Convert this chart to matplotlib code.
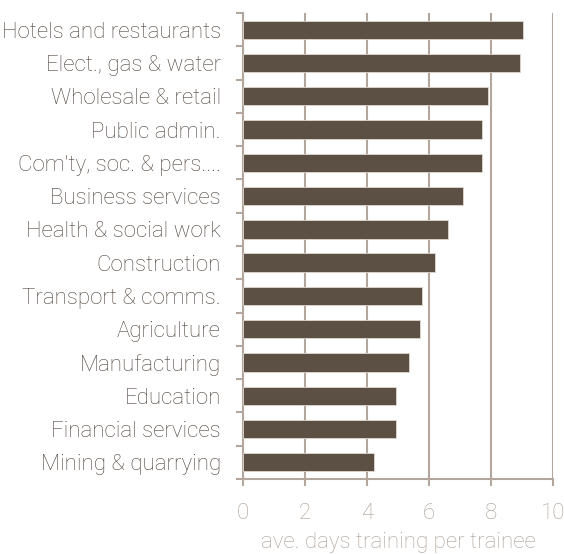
import matplotlib.pyplot as plt

sectors = ['Hotels and restaurants', 'Elect., gas & water', 'Wholesale & retail',
           'Public admin.', "Com'ty, soc. & pers....", 'Business services',
           'Health & social work', 'Construction', 'Transport & comms.',
           'Agriculture', 'Manufacturing', 'Education', 'Financial services',
           'Mining & quarrying']
days = [9.05, 8.95, 7.91, 7.72, 7.70, 7.09, 6.62, 6.20, 5.77, 5.71, 5.36, 4.93, 4.93, 4.22]

bar_col = '#5c4f44'
grid_col = '#b3a79d'
label_col = '#4f443c'
tick_col = '#aa9e94'

plt.rcParams['font.family'] = ['Roboto', 'DejaVu Sans']

fig = plt.figure(figsize=(5.64, 5.54), dpi=100)
ax = fig.add_axes([0.431, 0.1354, 0.549, 0.8411])

pos = list(range(len(sectors)))
ax.barh(pos, days, height=0.55, color=bar_col, edgecolor='#e0d8d0', linewidth=0.6, zorder=3)

ax.set_xlim(0, 10)
ax.set_ylim(len(sectors) - 0.5, -0.5)
ax.set_xticks([0, 2, 4, 6, 8, 10])
ax.set_yticks([p - 0.5 for p in pos] + [len(sectors) - 0.5])
ax.set_yticklabels([])
ax.set_yticks(pos, minor=True)
ax.set_yticklabels(sectors, minor=True, fontsize=16, color=label_col, fontweight='light')
ax.tick_params(axis='y', which='minor', length=0, pad=16)
ax.tick_params(axis='y', which='major', length=5, width=1.5, color=grid_col)
ax.tick_params(axis='x', length=5, width=1.5, color=grid_col, labelsize=16,
               labelcolor=tick_col, pad=12)
for t in ax.get_xticklabels():
    t.set_fontweight('light')

ax.grid(axis='x', color=grid_col, linewidth=1.5, zorder=0)
for s in ['top', 'right']:
    ax.spines[s].set_visible(False)
for s in ['left', 'bottom']:
    ax.spines[s].set_color(grid_col)
    ax.spines[s].set_linewidth(1.5)

ax.set_xlabel('ave. days training per trainee', fontsize=16, color=tick_col,
              fontweight='light', labelpad=6)

fig.savefig('out.png', dpi=100)
